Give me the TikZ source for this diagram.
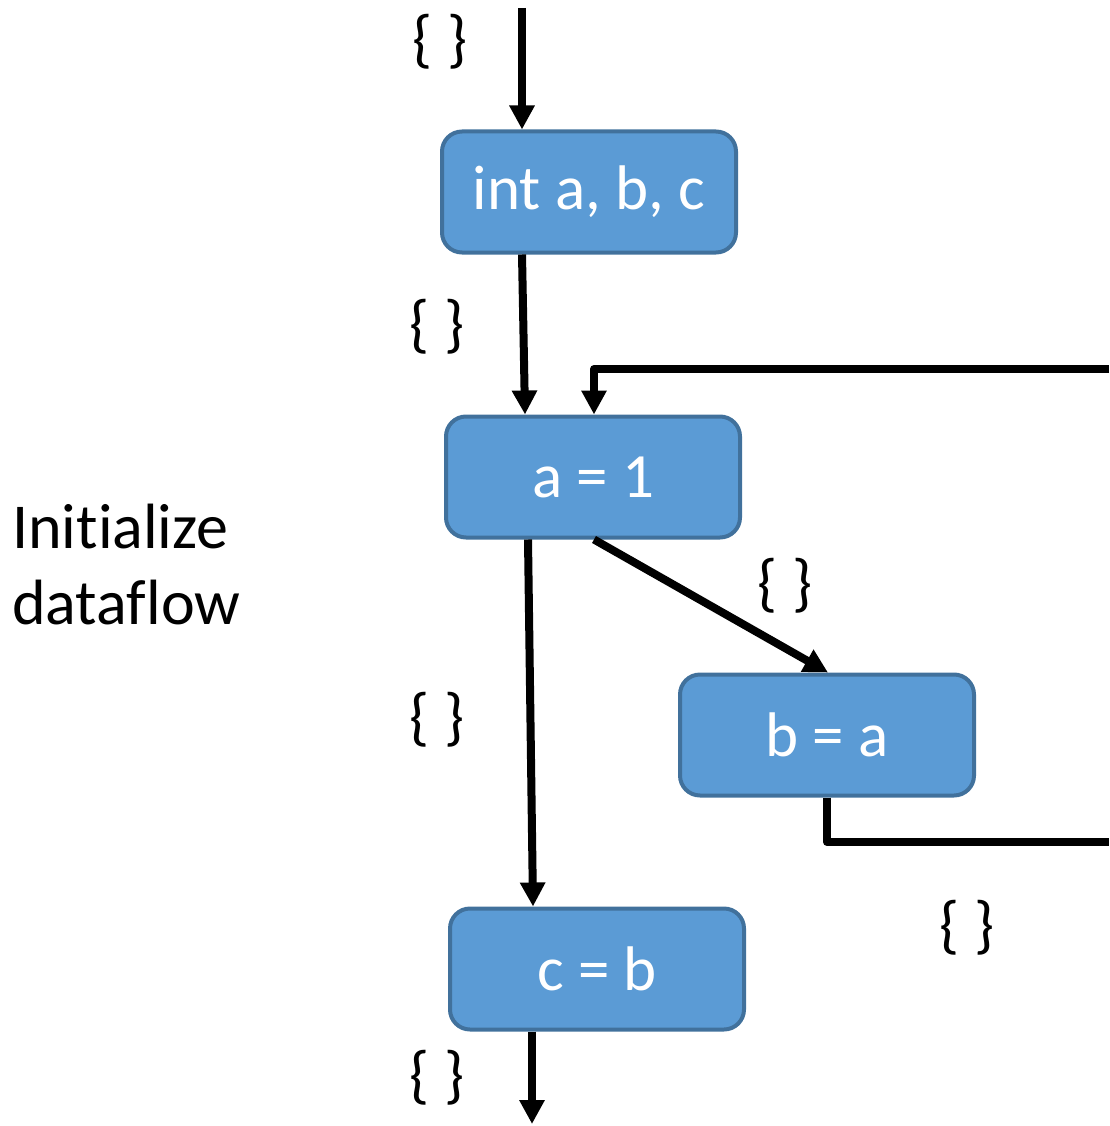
\documentclass[tikz,border=0pt]{standalone}
\usepackage{fontspec}
\setmainfont[Ligatures=NoCommon]{Carlito}
\usetikzlibrary{arrows.meta}
\definecolor{boxfill}{HTML}{5B9BD5}
\definecolor{boxline}{HTML}{41719C}
\begin{document}
\begin{tikzpicture}[x=1pt,y=-1pt,
  stmt/.style={draw=boxline, fill=boxfill, line width=4pt, rounded corners=20pt,
    minimum width=294pt, minimum height=121pt, inner sep=0pt,
    text=white, font=\fontsize{63}{75}\selectfont},
  flow/.style={line width=8pt, line join=round,
    -{Triangle[length=24pt,width=24pt]}},
  setlbl/.style={font=\fontsize{64}{76}\selectfont, inner sep=0pt}]
\useasboundingbox (0,0) rectangle (1109,1126);

% statement boxes
\node[stmt] (b1) at (589,192) {int a, b, c};
\node[stmt] (b2) at (593,477) {a = 1};
\node[stmt] (b3) at (827,735) {b = a};
\node[stmt] (b4) at (597,969) {c = b};

% free ends of the flow edges
\coordinate (entry) at (522,8);
\coordinate (exit) at (532,1124);
\coordinate (loopin) at (1109,369);
\coordinate (loopout) at (1109,842);

% flow edges
\draw[flow] (entry) -- ([xshift=-67pt]b1.north);
\draw[flow] ([xshift=-67pt]b1.south) -- ([xshift=-68pt]b2.north);
\draw[flow] (loopin) -| ([xshift=1pt]b2.north);
\draw[flow] ([xshift=1pt]b2.south) -- ([xshift=1pt]b3.north);
\draw[flow] ([xshift=-65pt]b2.south) -- ([xshift=-64pt]b4.north);
\draw[line width=8pt, line join=round] (b3.south) |- (loopout);
\draw[flow] ([xshift=-65pt]b4.south) -- (exit);

% dataflow sets
\node[setlbl] (s1) at (440,42) {\{ \}};
\node[setlbl] (s2) at (437,327) {\{ \}};
\node[setlbl] (s3) at (785,586) {\{ \}};
\node[setlbl] (s4) at (437,720) {\{ \}};
\node[setlbl] (s5) at (967,928) {\{ \}};
\node[setlbl] (s6) at (437,1078) {\{ \}};

% side caption
\node[anchor=west, align=left, inner sep=0pt,
  font=\fontsize{64}{76}\selectfont] (cap) at (12,565) {Initialize\\dataflow};
\end{tikzpicture}
\end{document}
